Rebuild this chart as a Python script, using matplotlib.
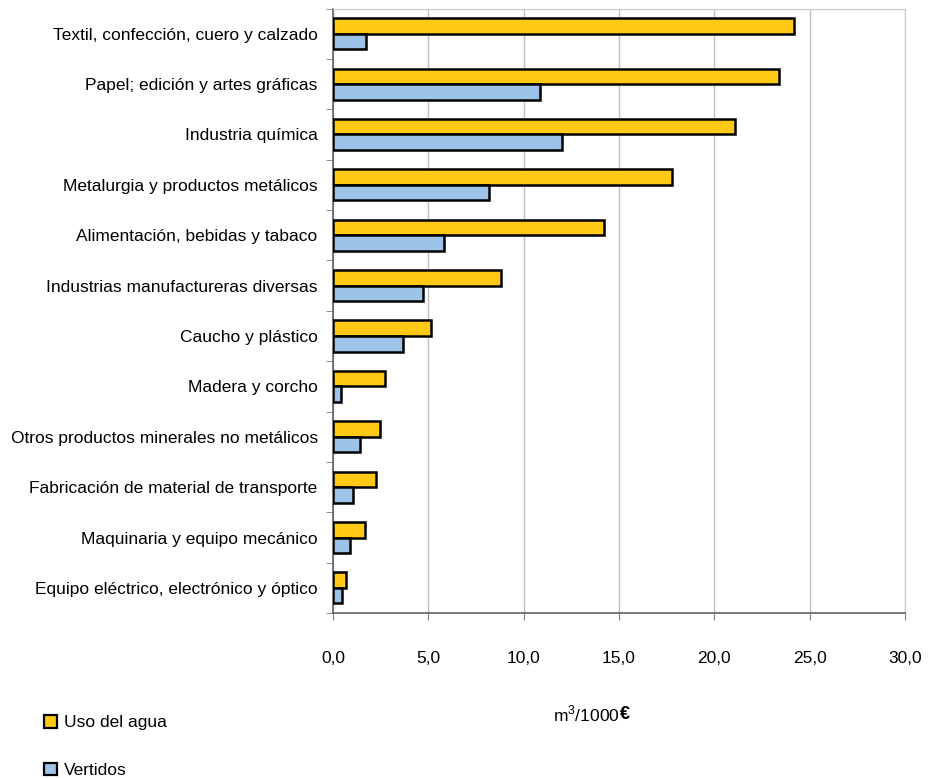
import numpy as np
import matplotlib
matplotlib.use("Agg")
import matplotlib.pyplot as plt
from matplotlib.patches import Patch
from matplotlib.ticker import FixedLocator

plt.rcParams['font.family'] = ['Liberation Sans Narrow', 'Liberation Sans', 'DejaVu Sans']
plt.rcParams['mathtext.fontset'] = 'custom'
plt.rcParams['mathtext.rm'] = 'Liberation Sans'

# sectors, top to bottom
sectors = [
    "Textil, confección, cuero y calzado",
    "Papel; edición y artes gráficas",
    "Industria química",
    "Metalurgia y productos metálicos",
    "Alimentación, bebidas y tabaco",
    "Industrias manufactureras diversas",
    "Caucho y plástico",
    "Madera y corcho",
    "Otros productos minerales no metálicos",
    "Fabricación de material de transporte",
    "Maquinaria y equipo mecánico",
    "Equipo eléctrico, electrónico y óptico",
]
uso_agua = [24.2, 23.4, 21.1, 17.8, 14.2, 8.8, 5.15, 2.75, 2.45, 2.25, 1.7, 0.66]
vertidos = [1.75, 10.85, 12.0, 8.2, 5.8, 4.7, 3.65, 0.42, 1.43, 1.03, 0.87, 0.49]
xticks = [0, 5, 10, 15, 20, 25, 30]

YELLOW = "#FFC914"
BLUE = "#9DC3E8"

fig = plt.figure(figsize=(9.31, 7.78), dpi=100)
ax = fig.add_axes([0.3577, 0.212, 0.6143, 0.777])

y = np.arange(len(sectors))
h = 0.31
ax.barh(y - h / 2, uso_agua, height=h, color=YELLOW, edgecolor="black", linewidth=1.8, zorder=3)
ax.barh(y + h / 2, vertidos, height=h, color=BLUE, edgecolor="black", linewidth=1.8, zorder=3)

ax.set_ylim(len(sectors) - 0.5, -0.5)
ax.set_xlim(0, 30)
ax.set_yticks(y)
ax.set_yticklabels(sectors, fontsize=12.5)
ax.yaxis.set_minor_locator(FixedLocator(np.arange(-0.5, len(sectors), 1)))
ax.tick_params(axis="y", which="major", length=0, pad=11)
ax.tick_params(axis="y", which="minor", length=5, color="#808080")

ax.set_xticks(xticks)
ax.set_xticklabels([f"{t:.1f}".replace(".", ",") for t in xticks], fontsize=12.5)
ax.tick_params(axis="x", length=5, color="#808080", pad=22)

ax.grid(axis="x", color="#c0c0c0", linewidth=1, zorder=0)
for s in ["top", "right"]:
    ax.spines[s].set_color("#c8c8c8")
for s in ["left", "bottom"]:
    ax.spines[s].set_color("#606060")
    ax.spines[s].set_linewidth(1.2)

fig.text(0.666, 0.082, r"m$^{3}$/1000", fontsize=12.5, ha="right", va="center")
fig.text(0.666, 0.082, "€", fontsize=13, fontweight="bold", ha="left", va="center")

handles = [Patch(facecolor=YELLOW, edgecolor="black", linewidth=1.6),
           Patch(facecolor=BLUE, edgecolor="black", linewidth=1.6)]
fig.legend(handles, ["Uso del agua", "Vertidos"], loc="lower left",
           bbox_to_anchor=(0.03, -0.02), frameon=False, fontsize=12.5,
           handlelength=0.75, handleheight=0.75, handletextpad=0.4, labelspacing=1.85)

fig.savefig("out.png", dpi=100, facecolor="white")
